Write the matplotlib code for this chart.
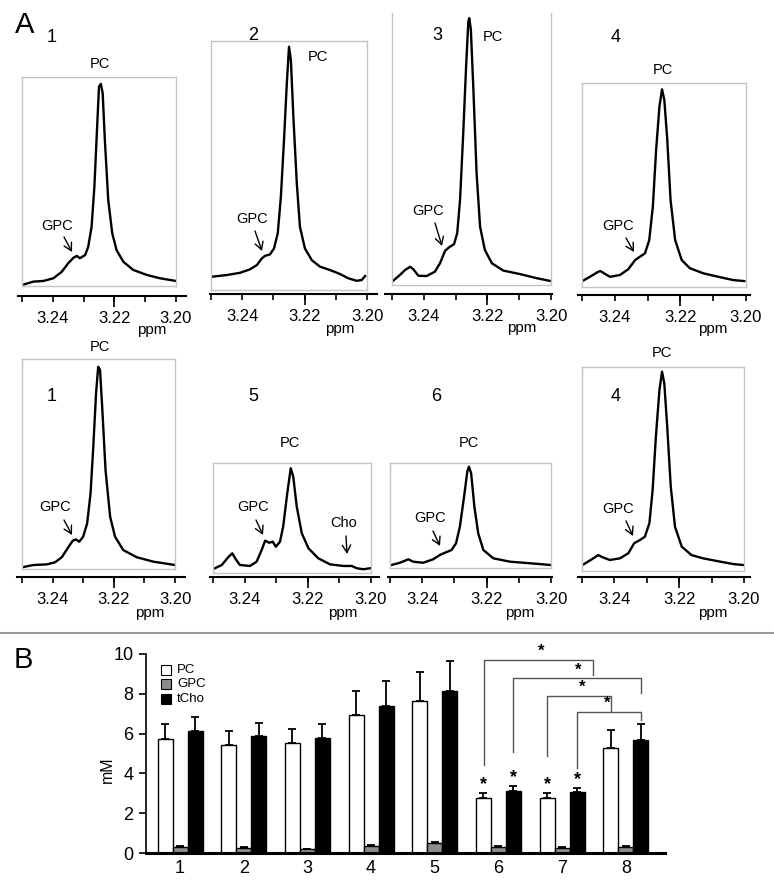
import numpy as np
import matplotlib
matplotlib.use('Agg')
import matplotlib.pyplot as plt
from matplotlib.patches import Rectangle, FancyArrowPatch
from matplotlib.lines import Line2D
import matplotlib.transforms as mtransforms

# ---------------- DATA ----------------
# Panel A spectra: chemical shift (ppm) and relative intensity (% of frame height)
ppm_1a = [3.2499, 3.2463, 3.2431, 3.2398, 3.2371, 3.2350, 3.2333, 3.2322, 3.2312, 3.2295, 3.2285, 3.2274, 3.2265,
          3.2257, 3.2250, 3.2244, 3.2238, 3.2231, 3.2220, 3.2207, 3.2193, 3.2171, 3.2139, 3.2095, 3.2052, 3.2000]
int_1a = [0.5, 2.1, 2.4, 3.7, 6.8, 10.9, 13.5, 14.4, 13.3, 14.8, 18.8, 28.4, 47.5,
          73.2, 95.4, 96.7, 92.2, 69.9, 41.1, 25.2, 17.2, 11.6, 7.7, 5.3, 3.7, 2.4]

ppm_2 = [3.2500, 3.2450, 3.2407, 3.2375, 3.2353, 3.2337, 3.2327, 3.2311, 3.2298, 3.2286, 3.2276, 3.2266, 3.2257,
         3.2250, 3.2244, 3.2236, 3.2225, 3.2215, 3.2199, 3.2177, 3.2151, 3.2118, 3.2086, 3.2060, 3.2033, 3.2017, 3.2006]
int_2 = [5.3, 6.0, 6.9, 8.3, 10.0, 12.7, 13.7, 14.3, 16.7, 22.8, 37.5, 60.2, 83.0,
         97.7, 92.4, 69.6, 42.9, 25.4, 16.7, 12.0, 9.4, 8.0, 6.4, 4.7, 3.7, 4.0, 5.6]

ppm_3 = [3.2500, 3.2475, 3.2459, 3.2443, 3.2433, 3.2417, 3.2391, 3.2365, 3.2349, 3.2333, 3.2320, 3.2305, 3.2295,
         3.2286, 3.2276, 3.2267, 3.2260, 3.2257, 3.2252, 3.2244, 3.2234, 3.2223, 3.2208, 3.2186, 3.2150, 3.2097,
         3.2045, 3.2003]
int_3 = [1.2, 3.7, 5.5, 6.7, 5.8, 3.4, 3.3, 4.9, 8.0, 12.6, 13.9, 15.0, 19.0,
         31.3, 55.8, 80.3, 96.8, 98.1, 93.8, 71.7, 41.1, 21.4, 12.9, 8.0, 5.3, 4.0, 2.5, 1.5]

ppm_4a = [3.2499, 3.2476, 3.2450, 3.2444, 3.2415, 3.2384, 3.2359, 3.2338, 3.2323, 3.2308, 3.2295, 3.2284, 3.2274,
          3.2264, 3.2256, 3.2249, 3.2240, 3.2230, 3.2216, 3.2196, 3.2171, 3.2130, 3.2079, 3.2039, 3.2005]
int_4a = [2.9, 5.0, 7.5, 7.8, 5.0, 5.9, 8.7, 13.2, 14.9, 16.5, 23.0, 39.4, 67.2,
          88.4, 96.9, 91.7, 72.1, 42.6, 23.0, 13.2, 9.2, 6.7, 4.8, 3.4, 2.9]

ppm_1b = [3.2500, 3.2463, 3.2419, 3.2392, 3.2370, 3.2349, 3.2334, 3.2324, 3.2313, 3.2300, 3.2287, 3.2276, 3.2267,
          3.2258, 3.2251, 3.2245, 3.2238, 3.2227, 3.2212, 3.2196, 3.2169, 3.2125, 3.2071, 3.2000]
int_1b = [0.8, 1.9, 2.2, 3.2, 5.6, 10.3, 13.5, 14.1, 13.0, 15.4, 21.8, 36.0, 58.2,
          83.7, 96.3, 94.8, 77.3, 47.1, 24.9, 15.4, 9.0, 5.6, 3.5, 1.9]

ppm_5 = [3.2494, 3.2472, 3.2452, 3.2439, 3.2428, 3.2415, 3.2383, 3.2362, 3.2346, 3.2335, 3.2322, 3.2311, 3.2301,
         3.2288, 3.2278, 3.2265, 3.2254, 3.2246, 3.2235, 3.2219, 3.2198, 3.2167, 3.2130, 3.2088, 3.2061, 3.2045,
         3.2024, 3.2003]
int_5 = [4.3, 7.3, 14.3, 17.9, 12.5, 7.3, 6.4, 10.3, 20.9, 29.4, 27.5, 28.5, 23.9,
         28.5, 42.1, 72.5, 95.2, 87.5, 60.3, 36.1, 22.5, 13.4, 7.9, 6.4, 6.4, 4.3, 3.4, 4.3]

ppm_6 = [3.2495, 3.2469, 3.2443, 3.2428, 3.2397, 3.2366, 3.2345, 3.2329, 3.2309, 3.2295, 3.2283, 3.2270, 3.2260,
         3.2255, 3.2248, 3.2238, 3.2226, 3.2210, 3.2179, 3.2127, 3.2065, 3.2003]
int_6 = [2.9, 5.0, 8.3, 6.0, 5.0, 8.3, 12.4, 14.6, 17.1, 23.5, 39.3, 67.9, 91.7,
         96.5, 90.2, 58.4, 33.0, 17.1, 9.2, 6.0, 4.5, 2.9]

ppm_4b = [3.2499, 3.2470, 3.2450, 3.2436, 3.2414, 3.2383, 3.2357, 3.2339, 3.2321, 3.2306, 3.2292, 3.2282, 3.2272,
          3.2261, 3.2253, 3.2246, 3.2237, 3.2226, 3.2213, 3.2192, 3.2162, 3.2126, 3.2074, 3.2033, 3.2000]
int_4b = [2.9, 5.7, 7.8, 6.7, 5.4, 6.2, 8.7, 13.6, 15.2, 16.8, 23.4, 39.7, 65.8,
          88.7, 97.7, 92.0, 70.7, 41.3, 21.7, 11.9, 7.8, 6.2, 4.6, 3.4, 2.9]

ppm_ticks = [3.25, 3.24, 3.23, 3.22, 3.21, 3.20]
ppm_ticklabels = ['', '3.24', '', '3.22', '', '3.20']

# Panel B: concentrations (mM), mean and upper error
groups = ['1', '2', '3', '4', '5', '6', '7', '8']
pc = [5.75, 5.45, 5.55, 6.93, 7.62, 2.76, 2.76, 5.29]
pc_err = [0.71, 0.67, 0.67, 1.22, 1.46, 0.28, 0.24, 0.87]
gpc = [0.31, 0.27, 0.18, 0.36, 0.52, 0.31, 0.27, 0.31]
gpc_err = [0.05, 0.03, 0.03, 0.05, 0.05, 0.03, 0.03, 0.04]
tcho = [6.12, 5.86, 5.78, 7.37, 8.12, 3.12, 3.08, 5.68]
tcho_err = [0.71, 0.67, 0.68, 1.28, 1.55, 0.25, 0.20, 0.80]
series_names = ['PC', 'GPC', 'tCho']
star_bars = [(6, 'PC'), (6, 'tCho'), (7, 'PC'), (7, 'tCho')]
# significance brackets: (left x, right x, left leg bottom, top, right leg bottom, star x)
brackets = [(5.765, 7.48, 4.42, 9.70, 8.94, 6.67),
            (6.235, 8.235, 5.09, 8.78, 8.06, 7.25),
            (6.765, 7.765, 4.87, 7.89, 7.15, 7.31),
            (7.235, 8.235, 4.29, 7.10, 6.68, 7.70)]

# ---------------- LAYOUT ----------------
W, H = 774, 882
fig = plt.figure(figsize=(W / 100, H / 100), dpi=100)
SANS = ['Liberation Sans', 'DejaVu Sans']
NARROW = ['Liberation Sans Narrow', 'Liberation Sans', 'DejaVu Sans']
plt.rcParams['font.family'] = SANS


def fx(x):
    return x / W


def fy(y):
    return 1 - y / H


def ftext(x, y, s, size, **kw):
    kw.setdefault('ha', 'center')
    kw.setdefault('va', 'center')
    fig.text(fx(x), fy(y), s, fontsize=size, **kw)


def farrow(p0, p1):
    a = FancyArrowPatch((fx(p0[0]), fy(p0[1])), (fx(p1[0]), fy(p1[1])), transform=fig.transFigure,
                        arrowstyle='->,head_length=0.45,head_width=0.25', mutation_scale=12, lw=1.0,
                        color='black', shrinkA=0, shrinkB=0)
    fig.add_artist(a)


panels = [
    dict(ppm=ppm_1a, it=int_1a, box=(22, 176, 77, 286), axis=(296, 18, 186), num='1', num_xy=(52, 37),
         pc_xy=(100, 64), gpc_xy=(57, 226), arr=((64, 237), (72, 252)), ppm_xy=(152, 330)),
    dict(ppm=ppm_2, it=int_2, box=(211, 367, 41, 290), axis=(294, 210, 377), num='2', num_xy=(253, 36),
         pc_xy=(318, 57), gpc_xy=(252, 219), arr=((255, 231), (262, 251)), ppm_xy=(340, 329)),
    dict(ppm=ppm_3, it=int_3, box=(392, 551, 13, 285), axis=(294, 385, 552), num='3', num_xy=(437, 36),
         pc_xy=(493, 37), gpc_xy=(428, 211), arr=((435, 223), (442, 246)), ppm_xy=(522, 328), notop=True),
    dict(ppm=ppm_4a, it=int_4a, box=(582, 746, 83, 287), axis=(295, 578, 750), num='4', num_xy=(616, 37),
         pc_xy=(663, 70), gpc_xy=(618, 226), arr=((626, 238), (634, 252)), ppm_xy=(713, 329)),
    dict(ppm=ppm_1b, it=int_1b, box=(22, 175, 359, 569), axis=(577, 17, 185), num='1', num_xy=(52, 396),
         pc_xy=(100, 347), gpc_xy=(55, 507), arr=((64, 520), (72, 535)), ppm_xy=(150, 613)),
    dict(ppm=ppm_5, it=int_5, box=(213, 371, 463, 573), axis=(577, 210, 379), num='5', num_xy=(253, 396),
         pc_xy=(290, 443), gpc_xy=(253, 507), arr=((256, 520), (263, 535)), ppm_xy=(343, 613),
         cho=((344, 523), (346, 536), (347, 554))),
    dict(ppm=ppm_6, it=int_6, box=(390, 551, 463, 568), axis=(577, 388, 552), num='6', num_xy=(436, 396),
         pc_xy=(469, 443), gpc_xy=(430, 518), arr=((433, 531), (440, 546)), ppm_xy=(520, 613)),
    dict(ppm=ppm_4b, it=int_4b, box=(582, 744, 367, 571), axis=(577, 578, 750), num='4', num_xy=(616, 396),
         pc_xy=(662, 353), gpc_xy=(618, 509), arr=((626, 521), (633, 536)), ppm_xy=(713, 613)),
]

for p in panels:
    L, R, T, B = p['box']
    ax = fig.add_axes([fx(L), fy(B), (R - L) / W, (B - T) / H])
    ax.plot(p['ppm'], p['it'], color='black', lw=1.7, solid_joinstyle='round')
    ax.set_xlim(3.25, 3.20)
    ax.set_ylim(0, 100)
    ax.set_xticks([])
    ax.set_yticks([])
    for s in ax.spines.values():
        s.set_color('#c4c4c4')
        s.set_linewidth(1.0)
    if p.get('notop'):
        ax.spines['top'].set_visible(False)

    # ppm axis below the frame
    ya, aL, aR = p['axis']

    def px2ppm(xp):
        return 3.25 - 0.05 * (xp - L) / (R - L)

    axx = fig.add_axes([fx(aL), fy(ya), (aR - aL) / W, 0.0001])
    axx.set_xlim(px2ppm(aL), px2ppm(aR))
    axx.set_ylim(0, 1)
    axx.patch.set_visible(False)
    for k in ['top', 'left', 'right']:
        axx.spines[k].set_visible(False)
    axx.spines['bottom'].set_linewidth(1.5)
    axx.set_yticks([])
    axx.set_xticks(ppm_ticks)
    axx.set_xticklabels(ppm_ticklabels)
    axx.tick_params(axis='x', direction='out', length=4, width=1.2, pad=7, labelsize=12)
    axx.plot([3.22], [0], marker=3, markersize=8, mew=1.2, color='black', clip_on=False,
             transform=mtransforms.blended_transform_factory(axx.transData, axx.transAxes))

    ftext(*p['ppm_xy'], 'ppm', 11)
    ftext(*p['num_xy'], p['num'], 13)
    ftext(*p['pc_xy'], 'PC', 10.5)
    ftext(*p['gpc_xy'], 'GPC', 10.5)
    farrow(*p['arr'])
    if 'cho' in p:
        ftext(*p['cho'][0], 'Cho', 10.5)
        farrow(p['cho'][1], p['cho'][2])

ftext(25, 25, 'A', 21)
ftext(23, 660, 'B', 21)

# separator
fig.add_artist(Line2D([0, 1], [fy(633), fy(633)], transform=fig.transFigure, color='#9a9a9a', lw=1.5))

# ---------------- PANEL B ----------------
axL, axR, axT, axB = 146, 665, 654, 853
axb = fig.add_axes([fx(axL), fy(axB), (axR - axL) / W, (axB - axT) / H])
spacing = 63.7
xlo = 1 - (180 - axL) / spacing
xhi = 1 + (axR - 180) / spacing
x = np.arange(1, len(groups) + 1)
w = 15 / spacing
vals = [pc, gpc, tcho]
errs = [pc_err, gpc_err, tcho_err]
colors = ['white', '#8c8c8c', 'black']
offs = [-w, 0, w]
for v, e, c, o in zip(vals, errs, colors, offs):
    axb.bar(x + o, v, w, color=c, edgecolor='black', lw=1.0, zorder=2)
    axb.errorbar(x + o, v, yerr=[np.zeros(len(v)), e], fmt='none', ecolor='black', elinewidth=1.3,
                 capsize=3.2, capthick=1.3, zorder=3)

for g, name in star_bars:
    i = series_names.index(name)
    top = vals[i][g - 1] + errs[i][g - 1]
    axb.text(g + offs[i], top + 0.42, '*', ha='center', va='center', fontsize=13, fontweight='bold')

for (xl, xr, yl, yt, yr, sx) in brackets:
    axb.plot([xl, xl, xr, xr], [yl, yt, yt, yr], color='#555555', lw=1.0, clip_on=False, zorder=1)
    axb.text(sx, yt + 0.42, '*', ha='center', va='center', fontsize=12, fontweight='bold', clip_on=False)

axb.set_xlim(xlo, xhi)
axb.set_ylim(0, 10)
axb.set_yticks([0, 2, 4, 6, 8, 10])
axb.set_xticks(x)
axb.set_xticklabels(groups, family=NARROW)
for lab in axb.get_yticklabels():
    lab.set_family(NARROW)
axb.tick_params(axis='y', direction='out', length=5, width=1.2, labelsize=13, pad=4)
axb.tick_params(axis='x', length=0, labelsize=13, pad=5)
axb.spines['top'].set_visible(False)
axb.spines['right'].set_visible(False)
axb.spines['left'].set_linewidth(1.2)
axb.spines['bottom'].set_linewidth(2.2)
axb.patch.set_visible(False)

fig.text(fx(107), fy(770), 'mM', rotation=90, fontsize=11.5, ha='center', va='center', family=NARROW)

# legend
leg_y = [670, 684, 699]
for name, c, yy in zip(series_names, colors, leg_y):
    fig.add_artist(Rectangle((fx(161), fy(yy + 5)), 10 / W, 10 / H, transform=fig.transFigure,
                             facecolor=c, edgecolor='black', lw=0.8))
    fig.text(fx(177), fy(yy), name, fontsize=9.5, ha='left', va='center', family=NARROW)

fig.savefig('out.png', dpi=100)
